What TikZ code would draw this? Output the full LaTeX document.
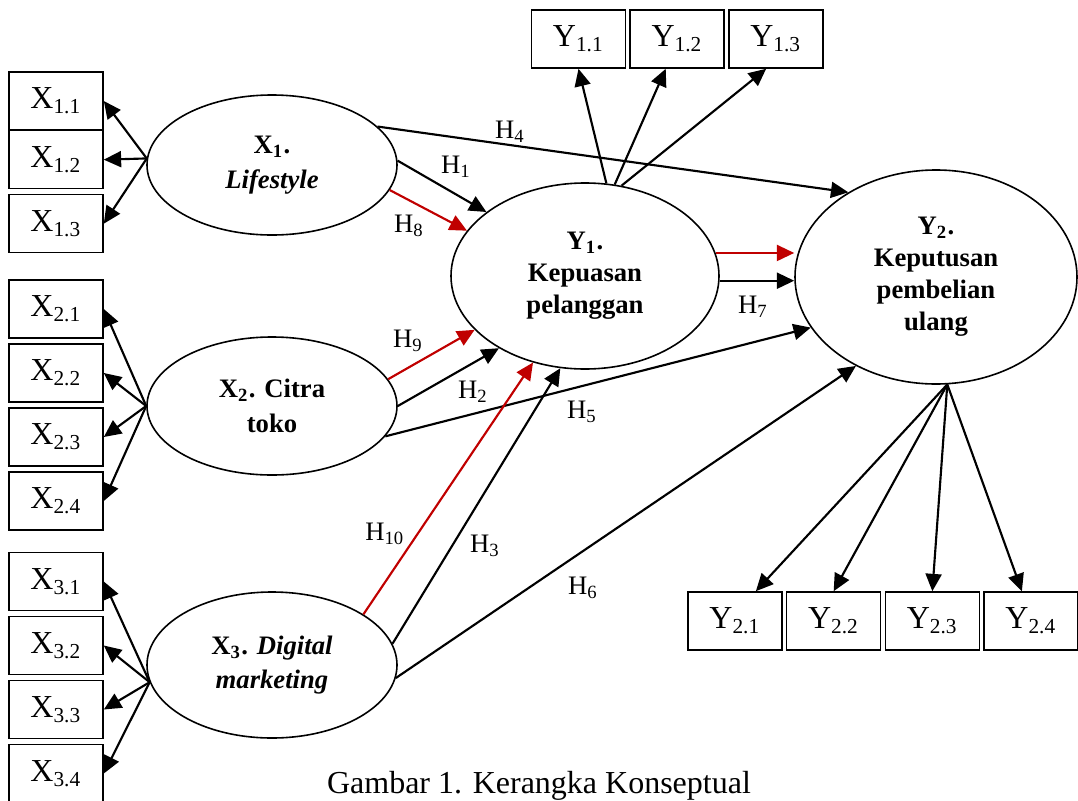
\documentclass[tikz,border=0pt]{standalone}
\usepackage{fontspec}
\setmainfont{Liberation Serif}
\usetikzlibrary{shapes.geometric,arrows.meta}
\definecolor{hred}{RGB}{192,0,0}

\begin{document}
\begin{tikzpicture}[x=0.375pt, y=-0.375pt, node distance=24pt,
                    latent node/.style={ellipse,draw,line width=0.6pt,inner sep=0pt,minimum width=93.75pt,align=center,font=\fontsize{10}{13}\selectfont\bfseries},
                    item node/.style={rectangle,draw,line width=0.6pt,inner sep=0pt,minimum width=35.25pt,minimum height=21.75pt,font=\fontsize{12}{14}\selectfont},
                    hyp label/.style={inner sep=0pt,font=\fontsize{10}{12}\selectfont},
                    link/.style={-{Triangle[length=6.5pt,width=6pt]},line width=0.8pt},
                    red link/.style={link,draw=hred}]

  \useasboundingbox (0,0) rectangle (1078,800);

  % latent variables
  \node[latent node,minimum height=52.5pt] (x1) at (272,165) {X\textsubscript{1}.\\\textit{Lifestyle}};
  \node[latent node,minimum height=51.75pt] (x2) at (272,406) {X\textsubscript{2}. Citra\\toko};
  \node[latent node,minimum height=54.75pt] (x3) at (272,665) {X\textsubscript{3}. \textit{Digital}\\\textit{marketing}};
  \node[latent node,minimum width=100.5pt,minimum height=69.75pt,font=\fontsize{10}{12}\selectfont\bfseries] (y1) at (585,276) {Y\textsubscript{1}.\\Kepuasan\\pelanggan};
  \node[latent node,minimum width=105.75pt,minimum height=80.25pt,font=\fontsize{10}{12}\selectfont\bfseries] (y2) at (936,277) {Y\textsubscript{2}.\\Keputusan\\pembelian\\ulang};

  % indicators
  \node[item node] (x11) at (56,101) {X\textsubscript{1.1}};
  \node[item node] (x12) [below of=x11,node distance=22pt] {X\textsubscript{1.2}};
  \node[item node] (x13) [below of=x12] {X\textsubscript{1.3}};
  \node[item node] (x21) at (56,309) {X\textsubscript{2.1}};
  \node[item node] (x22) [below of=x21] {X\textsubscript{2.2}};
  \node[item node] (x23) [below of=x22] {X\textsubscript{2.3}};
  \node[item node] (x24) [below of=x23] {X\textsubscript{2.4}};
  \node[item node] (x31) at (56,581.5) {X\textsubscript{3.1}};
  \node[item node] (x32) [below of=x31] {X\textsubscript{3.2}};
  \node[item node] (x33) [below of=x32] {X\textsubscript{3.3}};
  \node[item node] (x34) [below of=x33] {X\textsubscript{3.4}};
  \node[item node] (y11) at (578.5,39) {Y\textsubscript{1.1}};
  \node[item node] (y12) [right of=y11,node distance=37pt] {Y\textsubscript{1.2}};
  \node[item node] (y13) [right of=y12,node distance=37pt] {Y\textsubscript{1.3}};
  \node[item node] (y21) at (735,621) {Y\textsubscript{2.1}};
  \node[item node] (y22) [right of=y21,node distance=37pt] {Y\textsubscript{2.2}};
  \node[item node] (y23) [right of=y22,node distance=37pt] {Y\textsubscript{2.3}};
  \node[item node] (y24) [right of=y23,node distance=37pt] {Y\textsubscript{2.4}};

  % loadings
  \draw[link] (x1.177) -- (x11.east);
  \draw[link] (x1.177) -- (x12.east);
  \draw[link] (x1.177) -- (x13.east);
  \draw[link] (x2.west) -- (x21.east);
  \draw[link] (x2.west) -- (x22.east);
  \draw[link] (x2.west) -- (x23.east);
  \draw[link] (x2.west) -- (x24.east);
  \draw[link] (x3.188) -- (x31.east);
  \draw[link] (x3.188) -- (x32.east);
  \draw[link] (x3.188) -- (x33.east);
  \draw[link] (x3.188) -- (x34.east);
  \draw[link] (y1.77) -- (y11.south);
  \draw[link] (y1.72) -- (y12.249);
  \draw[link] (y1.68) -- (y13.252);
  \draw[link] (y2.276) -- (y21.55);
  \draw[link] (y2.276) -- (y22.north);
  \draw[link] (y2.276) -- (y23.north);
  \draw[link] (y2.276) -- (y24.107);

  % hypotheses
  \draw[link] (x1.2) -- (y1.147);
  \draw[red link] (x1.348) -- (y1.159);
  \draw[link] (x1.20) -- (y2.136);
  \draw[red link] (x2.13) -- (y1.206);
  \draw[link] (x2.east) -- (y1.220);
  \draw[link] (x2.345) -- (y2.202);
  \draw[red link] (x3.29) -- (y1.239);
  \draw[link] (x3.10) -- (y1.255);
  \draw[link] (x3.354) -- (y2.228);
  \draw[red link] (y1.10) -- (y1.10 -| y2.west);
  \draw[link] (y1.358) -- (y1.358 -| y2.west);

  \node[hyp label] (h1) at (456,167) {H\textsubscript{1}};
  \node[hyp label] (h2) at (473,392) {H\textsubscript{2}};
  \node[hyp label] (h3) at (485,546) {H\textsubscript{3}};
  \node[hyp label] (h4) at (510,132) {H\textsubscript{4}};
  \node[hyp label] (h5) at (582,412) {H\textsubscript{5}};
  \node[hyp label] (h6) at (583,588) {H\textsubscript{6}};
  \node[hyp label] (h7) at (753,307) {H\textsubscript{7}};
  \node[hyp label] (h8) at (409,226) {H\textsubscript{8}};
  \node[hyp label] (h9) at (408,341) {H\textsubscript{9}};
  \node[hyp label] (h10) at (385,534) {H\textsubscript{10}};

  \node[font=\fontsize{12}{14}\selectfont] (caption) at (539,786) {Gambar 1. Kerangka Konseptual};

\end{tikzpicture}
\end{document}
